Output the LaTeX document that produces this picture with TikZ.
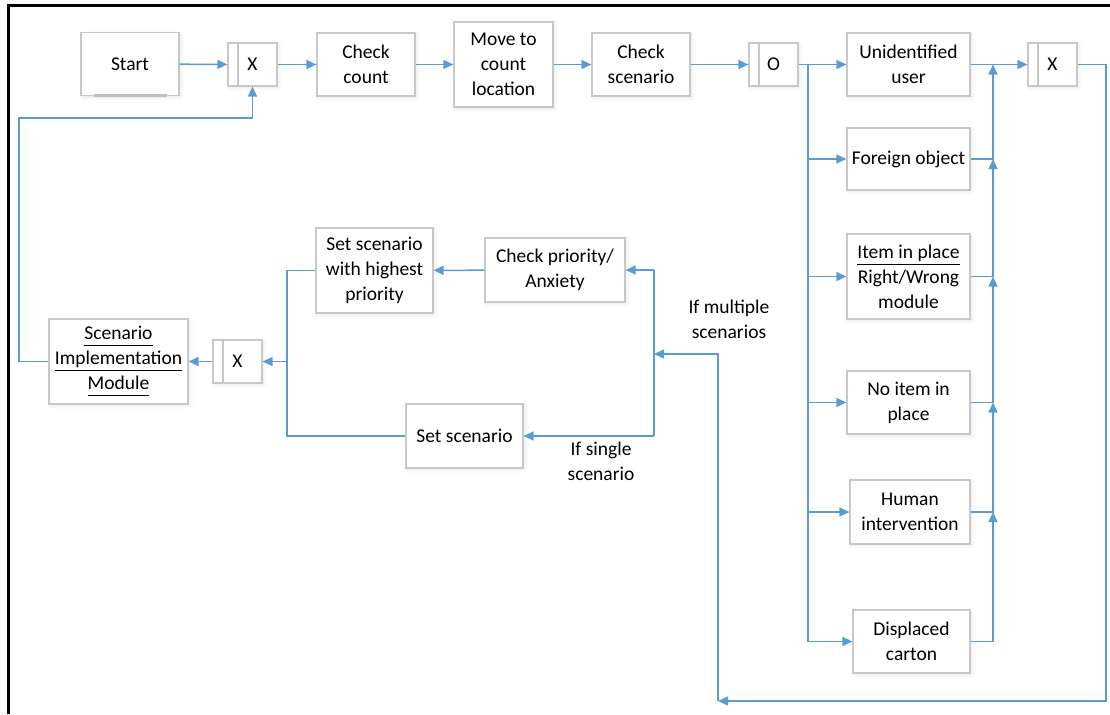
\documentclass[tikz,border=0pt]{standalone}
\usepackage{fontspec}
\setmainfont{Carlito}
\usepackage{tikz}
\usetikzlibrary{arrows.meta}
\usetikzlibrary{shadows.blur}

\definecolor{flowblue}{RGB}{91,155,213}
\definecolor{boxgray}{RGB}{200,200,200}
\newcommand{\uword}[1]{\underline{#1\vphantom{p}}}

\tikzset{
  box/.style={draw=boxgray, fill=white, line width=0.6pt, align=center, inner sep=1pt,
    font=\fontsize{9.75}{12.5}\selectfont,
    blur shadow={shadow xshift=0.8pt, shadow yshift=-0.8pt, shadow opacity=10, shadow blur steps=4}},
  gate/.style={box, minimum width=24.5pt, minimum height=21.5pt,
    path picture={\draw[boxgray, line width=0.6pt]
      ([xshift=5pt]path picture bounding box.north west) -- ([xshift=5pt]path picture bounding box.south west);}},
  flow/.style={draw=flowblue, line width=0.75pt, -{Triangle[length=5pt,width=4.5pt]}},
  link/.style={draw=flowblue, line width=0.75pt},
  lbl/.style={align=center, font=\fontsize{9.75}{12.5}\selectfont}
}

\begin{document}
\begin{tikzpicture}[x=0.5pt,y=0.5pt,yscale=-1,xscale=1]
  \useasboundingbox (0,0) rectangle (1110,714);
  \draw[line width=1.4pt] (8.7,714) -- (8.7,5.5) -- (1110,5.5);

  % top row
  \node[box, minimum width=49pt, minimum height=31.5pt] (start) at (130,64) {Start};
  \draw[black!25, line width=1.4pt] ([xshift=7pt,yshift=-0.3pt]start.south west) -- ([xshift=-6.5pt,yshift=-0.3pt]start.south east);
  \node[gate] (g1) at (252.5,64.5) {X};
  \node[box, minimum width=49pt, minimum height=31.5pt] (count) at (366,64.5) {Check\\count};
  \node[box, minimum width=49.5pt, minimum height=42.5pt] (move) at (503.5,64.5) {Move to\\count\\location};
  \node[box, minimum width=49pt, minimum height=31.5pt] (scen) at (641,64.5) {Check\\scenario};
  \node[gate] (g2) at (773.5,64.5) {O};
  \node[box, minimum width=61.5pt, minimum height=31.5pt] (unid) at (908.5,64.5) {Unidentified\\user};
  \node[gate] (g3) at (1052.5,64.5) {X};

  % scenario column
  \node[box, minimum width=61.5pt, minimum height=31pt] (foreign) at (908.5,159) {Foreign object};
  \node[box, minimum width=61.5pt, minimum height=42.5pt] (item) at (908.5,276.5) {\uword{Item in place}\\Right/Wrong\\module};
  \node[box, minimum width=61.5pt, minimum height=31.5pt] (noitem) at (908.5,402.5) {No item in\\place};
  \node[box, minimum width=60pt, minimum height=32pt] (human) at (910,512) {Human\\intervention};
  \node[box, minimum width=58.5pt, minimum height=31.5pt] (displaced) at (911.5,641.5) {Displaced\\carton};

  % lower part
  \node[box, minimum width=70pt, minimum height=32pt] (prio) at (555,270) {Check priority/\\Anxiety};
  \node[box, minimum width=58.5pt, minimum height=42.5pt] (high) at (374.5,270.5) {Set scenario\\with highest\\priority};
  \node[box, minimum width=58.5pt, minimum height=32pt] (setscen) at (464.5,436) {Set scenario};
  \node[gate] (g4) at (237.5,361.5) {X};
  \node[box, minimum width=69.5pt, minimum height=42.5pt] (sim) at (118.5,361.5) {\uword{Scenario}\\\uword{Implementation}\\\uword{Module}};
  \node[lbl] (multi) at (729,319) {If multiple\\scenarios};
  \node[lbl] (single) at (601,461) {If single\\scenario};

  \coordinate (split) at (808,64.5);
  \coordinate (merge) at (993,64.5);
  \coordinate (back) at (1106,701);
  \coordinate (turn) at (718,701);
  \coordinate (join) at (654,354);
  \coordinate (fork) at (287,361.5);
  \coordinate (loop) at (19,118);

  % top row arrows
  \draw[flow] (start) -- (g1);
  \draw[flow] (g1) -- (count);
  \draw[flow] (count) -- (move);
  \draw[flow] (move) -- (scen);
  \draw[flow] (scen) -- (g2);
  \draw[flow] (g2) -- (unid);
  \draw[flow] (unid) -- (g3);

  % split into scenarios
  \foreach \n in {foreign,item,noitem,human,displaced}
    \draw[flow] (split) |- (\n.west);

  % merge back
  \draw[flow] (foreign.east) -| (merge);
  \draw[flow] (item.east) -| (foreign.east -| merge);
  \draw[flow] (noitem.east) -| (item.east -| merge);
  \draw[flow] (human.east) -| (noitem.east -| merge);
  \draw[flow] (displaced.east) -| (human.east -| merge);

  % loop to the lower part
  \draw[flow] (g3.east) -| (back) -- (turn);
  \draw[flow] (turn) |- (join);
  \draw[link] (join |- prio.east) -- (join |- setscen.east);
  \draw[flow] (join |- prio.east) -- (prio.east);
  \draw[flow] (join |- setscen.east) -- (setscen.east);
  \draw[flow] (prio) -- (high);
  \draw[link] (high.west) -| (fork);
  \draw[link] (setscen.west) -| (fork);
  \draw[flow] (fork) -- (g4);
  \draw[flow] (g4) -- (sim);
  \draw[flow] (sim.west) -| (loop) -| (g1.south);
\end{tikzpicture}
\end{document}
